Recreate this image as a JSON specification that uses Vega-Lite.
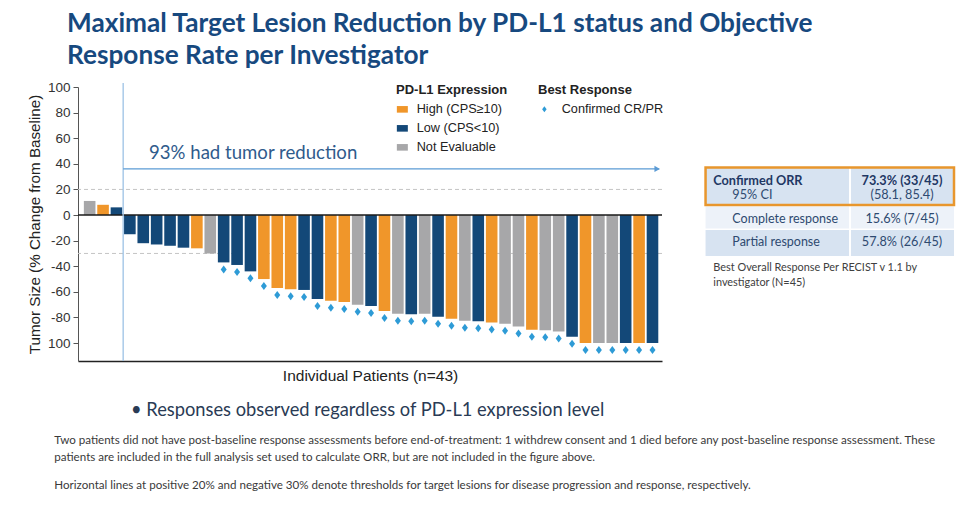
{
  "$schema": "https://vega.github.io/schema/vega-lite/v6.json",
  "width": 584,
  "height": 274,
  "autosize": {"type": "none"},
  "padding": {"left": 78, "top": 87, "right": 312, "bottom": 145},
  "background": "white",
  "config": {
    "view": {"stroke": null},
    "font": "Liberation Sans",
    "legend": {
      "labelFont": "Liberation Sans", "labelFontSize": 12.7, "labelColor": "#222",
      "titleFont": "Liberation Sans", "titleFontSize": 13, "titleFontWeight": "bold", "titleColor": "#222",
      "padding": 0, "rowPadding": 5, "titlePadding": 6
    }
  },
  "datasets": {
    "patients": [
      {"id": 1, "pct": 11, "pdl1": "Not Evaluable", "resp": null},
      {"id": 2, "pct": 8, "pdl1": "High (CPS≥10)", "resp": null},
      {"id": 3, "pct": 6, "pdl1": "Low (CPS<10)", "resp": null},
      {"id": 4, "pct": -15, "pdl1": "Low (CPS<10)", "resp": null},
      {"id": 5, "pct": -22, "pdl1": "Low (CPS<10)", "resp": null},
      {"id": 6, "pct": -23, "pdl1": "Low (CPS<10)", "resp": null},
      {"id": 7, "pct": -24, "pdl1": "Low (CPS<10)", "resp": null},
      {"id": 8, "pct": -25.5, "pdl1": "Low (CPS<10)", "resp": null},
      {"id": 9, "pct": -26, "pdl1": "High (CPS≥10)", "resp": null},
      {"id": 10, "pct": -30, "pdl1": "Not Evaluable", "resp": null},
      {"id": 11, "pct": -37, "pdl1": "Low (CPS<10)", "resp": "Confirmed CR/PR"},
      {"id": 12, "pct": -39, "pdl1": "Low (CPS<10)", "resp": "Confirmed CR/PR"},
      {"id": 13, "pct": -44, "pdl1": "Low (CPS<10)", "resp": "Confirmed CR/PR"},
      {"id": 14, "pct": -50, "pdl1": "High (CPS≥10)", "resp": "Confirmed CR/PR"},
      {"id": 15, "pct": -57, "pdl1": "High (CPS≥10)", "resp": "Confirmed CR/PR"},
      {"id": 16, "pct": -58, "pdl1": "High (CPS≥10)", "resp": "Confirmed CR/PR"},
      {"id": 17, "pct": -58.5, "pdl1": "Low (CPS<10)", "resp": "Confirmed CR/PR"},
      {"id": 18, "pct": -65.5, "pdl1": "Low (CPS<10)", "resp": "Confirmed CR/PR"},
      {"id": 19, "pct": -67, "pdl1": "High (CPS≥10)", "resp": "Confirmed CR/PR"},
      {"id": 20, "pct": -68, "pdl1": "High (CPS≥10)", "resp": "Confirmed CR/PR"},
      {"id": 21, "pct": -70, "pdl1": "Not Evaluable", "resp": "Confirmed CR/PR"},
      {"id": 22, "pct": -71, "pdl1": "Low (CPS<10)", "resp": "Confirmed CR/PR"},
      {"id": 23, "pct": -75, "pdl1": "High (CPS≥10)", "resp": "Confirmed CR/PR"},
      {"id": 24, "pct": -77, "pdl1": "Not Evaluable", "resp": "Confirmed CR/PR"},
      {"id": 25, "pct": -77.5, "pdl1": "Low (CPS<10)", "resp": "Confirmed CR/PR"},
      {"id": 26, "pct": -77, "pdl1": "Not Evaluable", "resp": "Confirmed CR/PR"},
      {"id": 27, "pct": -79.5, "pdl1": "Low (CPS<10)", "resp": "Confirmed CR/PR"},
      {"id": 28, "pct": -81, "pdl1": "High (CPS≥10)", "resp": "Confirmed CR/PR"},
      {"id": 29, "pct": -82.5, "pdl1": "Not Evaluable", "resp": "Confirmed CR/PR"},
      {"id": 30, "pct": -83, "pdl1": "Low (CPS<10)", "resp": "Confirmed CR/PR"},
      {"id": 31, "pct": -84, "pdl1": "High (CPS≥10)", "resp": "Confirmed CR/PR"},
      {"id": 32, "pct": -85, "pdl1": "Not Evaluable", "resp": "Confirmed CR/PR"},
      {"id": 33, "pct": -87, "pdl1": "Not Evaluable", "resp": "Confirmed CR/PR"},
      {"id": 34, "pct": -89.5, "pdl1": "High (CPS≥10)", "resp": "Confirmed CR/PR"},
      {"id": 35, "pct": -90, "pdl1": "Not Evaluable", "resp": "Confirmed CR/PR"},
      {"id": 36, "pct": -91, "pdl1": "Not Evaluable", "resp": "Confirmed CR/PR"},
      {"id": 37, "pct": -95, "pdl1": "Low (CPS<10)", "resp": "Confirmed CR/PR"},
      {"id": 38, "pct": -100, "pdl1": "High (CPS≥10)", "resp": "Confirmed CR/PR"},
      {"id": 39, "pct": -100, "pdl1": "Not Evaluable", "resp": "Confirmed CR/PR"},
      {"id": 40, "pct": -100, "pdl1": "Not Evaluable", "resp": "Confirmed CR/PR"},
      {"id": 41, "pct": -100, "pdl1": "Low (CPS<10)", "resp": "Confirmed CR/PR"},
      {"id": 42, "pct": -100, "pdl1": "High (CPS≥10)", "resp": "Confirmed CR/PR"},
      {"id": 43, "pct": -100, "pdl1": "Low (CPS<10)", "resp": "Confirmed CR/PR"}
    ]
  },
  "layer": [
    {
      "data": {"values": [{"pct": 20}, {"pct": -30}]},
      "mark": {"type": "rule", "color": "#c4c4c4", "strokeDash": [4, 3], "strokeWidth": 1},
      "encoding": {
        "y": {
          "field": "pct", "type": "quantitative",
          "scale": {"domain": [-114, 100], "nice": false, "padding": 0},
          "axis": {
            "title": "Tumor Size (% Change from Baseline)", "values": [100, 80, 60, 40, 20, 0, -20, -40, -60, -80, -100],
            "tickCount": 30,
            "labelExpr": "datum.value == -100 ? '100' : toString(datum.value)",
            "labelOverlap": false, "labelFlush": false, "labelBound": false,
            "grid": false, "tickSize": 5, "tickColor": "#555", "domainColor": "#555",
            "labelFontSize": 13.5, "labelColor": "#333", "labelPadding": 3, "labelFont": "Liberation Sans",
            "titleFont": "Liberation Sans", "titleFontSize": 15.2, "titleFontWeight": "normal", "titleColor": "#222", "titlePadding": 5
          }
        }
      }
    },
    {
      "data": {"name": "patients"},
      "mark": {"type": "bar", "width": 11.6},
      "encoding": {
        "x": {
          "field": "id", "type": "quantitative",
          "scale": {"domain": [0.13, 43.71], "nice": false, "zero": false, "padding": 0},
          "axis": {
            "title": "Individual Patients (n=43)", "labels": false, "ticks": false, "grid": false,
            "domainColor": "#222", "domainWidth": 1.5, "titleFont": "Liberation Sans",
            "titleFontSize": 15.5, "titleFontWeight": "normal", "titleColor": "#222", "titlePadding": 7
          }
        },
        "y": {
          "field": "pct", "type": "quantitative",
          "scale": {"domain": [-114, 100], "nice": false, "padding": 0},
          "axis": {
            "title": "Tumor Size (% Change from Baseline)", "values": [100, 80, 60, 40, 20, 0, -20, -40, -60, -80, -100],
            "tickCount": 30,
            "labelExpr": "datum.value == -100 ? '100' : toString(datum.value)",
            "labelOverlap": false, "labelFlush": false, "labelBound": false,
            "grid": false, "tickSize": 5, "tickColor": "#555", "domainColor": "#555",
            "labelFontSize": 13.5, "labelColor": "#333", "labelPadding": 3, "labelFont": "Liberation Sans",
            "titleFont": "Liberation Sans", "titleFontSize": 15.2, "titleFontWeight": "normal", "titleColor": "#222", "titlePadding": 5
          }
        },
        "color": {
          "field": "pdl1", "type": "nominal",
          "scale": {"domain": ["High (CPS≥10)", "Low (CPS<10)", "Not Evaluable"], "range": ["#f0962a", "#134878", "#a7a7a9"]},
          "legend": {
            "title": "PD-L1 Expression", "orient": "none", "legendX": 318, "legendY": -3,
            "symbolType": "M-1,-0.6H1V0.6H-1Z", "symbolSize": 121, "symbolStrokeWidth": 0, "labelOffset": 8
          }
        }
      }
    },
    {
      "data": {"values": [{"pct": 0}]},
      "mark": {"type": "rule", "color": "#1a1a1a", "strokeWidth": 1.5},
      "encoding": {"y": {"field": "pct", "type": "quantitative"}}
    },
    {
      "data": {"values": [{}]},
      "mark": {"type": "rule", "color": "#9cc2e5", "strokeWidth": 1.3},
      "encoding": {"x": {"datum": 3.5}, "y": {"datum": 103.1}, "y2": {"datum": -114}}
    },
    {
      "data": {"values": [{}]},
      "mark": {"type": "rule", "color": "#5b9bd5", "strokeWidth": 1.3},
      "encoding": {"x": {"datum": 3.5}, "x2": {"datum": 43.5}, "y": {"datum": 36}}
    },
    {
      "data": {"values": [{}]},
      "mark": {"type": "point", "shape": "triangle-right", "filled": true, "opacity": 1, "color": "#5b9bd5", "size": 40, "strokeWidth": 0},
      "encoding": {"x": {"datum": 43.35}, "y": {"datum": 36}}
    },
    {
      "data": {"name": "patients"},
      "transform": [{"filter": "datum.resp != null"}],
      "mark": {"type": "point", "filled": true, "opacity": 1, "size": 64, "yOffset": 7, "color": "#2e9bd6", "strokeWidth": 0},
      "encoding": {
        "x": {"field": "id", "type": "quantitative"},
        "y": {"field": "pct", "type": "quantitative"},
        "shape": {
          "field": "resp", "type": "nominal",
          "scale": {"domain": ["Confirmed CR/PR"], "range": ["M0,-1L0.75,0L0,1L-0.75,0Z"]},
          "legend": {
            "title": "Best Response", "orient": "none", "legendX": 460, "legendY": -3,
            "symbolSize": 36, "symbolFillColor": "#2e9bd6", "symbolStrokeWidth": 0, "labelOffset": 11
          }
        }
      }
    },
    {
      "data": {"values": [{"t": "93% had tumor reduction"}]},
      "mark": {"type": "text", "font": "Lato", "fontSize": 18.6, "color": "#2f5b8c", "align": "left", "baseline": "alphabetic"},
      "encoding": {"x": {"datum": 5.43}, "y": {"datum": 43.53}, "text": {"field": "t"}}
    },
    {
      "data": {"values": [{"t": "Maximal Target Lesion Reduction by PD-L1 status and Objective"}]},
      "mark": {"type": "text", "font": "Lato", "fontSize": 26.2, "fontWeight": "bold", "color": "#17497f", "align": "left", "baseline": "alphabetic"},
      "encoding": {"x": {"datum": -0.69}, "y": {"datum": 142.72}, "text": {"field": "t"}}
    },
    {
      "data": {"values": [{"t": "Response Rate per Investigator"}]},
      "mark": {"type": "text", "font": "Lato", "fontSize": 26.2, "fontWeight": "bold", "color": "#17497f", "align": "left", "baseline": "alphabetic"},
      "encoding": {"x": {"datum": -0.69}, "y": {"datum": 117.9}, "text": {"field": "t"}}
    },
    {
      "data": {"values": [{}]},
      "mark": {"type": "rect", "fill": "#d7e3f1"},
      "encoding": {"x": {"datum": 46.96}, "x2": {"datum": 65.5}, "y": {"datum": 37.13}, "y2": {"datum": 7.84}}
    },
    {
      "data": {"values": [{}]},
      "mark": {"type": "rect", "fill": "#edf2f9"},
      "encoding": {"x": {"datum": 46.96}, "x2": {"datum": 65.5}, "y": {"datum": 6.67}, "y2": {"datum": -10.51}}
    },
    {
      "data": {"values": [{}]},
      "mark": {"type": "rect", "fill": "#d7e3f1"},
      "encoding": {"x": {"datum": 46.96}, "x2": {"datum": 65.5}, "y": {"datum": -11.68}, "y2": {"datum": -31.96}}
    },
    {
      "data": {"values": [{}]},
      "mark": {"type": "rule", "color": "white", "strokeWidth": 2},
      "encoding": {"x": {"datum": 57.74}, "y": {"datum": 37.13}, "y2": {"datum": -31.96}}
    },
    {
      "data": {"values": [{}]},
      "mark": {"type": "rect", "fill": null, "fillOpacity": 0, "stroke": "#e8962d", "strokeWidth": 2.5},
      "encoding": {"x": {"datum": 46.96}, "x2": {"datum": 65.5}, "y": {"datum": 37.13}, "y2": {"datum": 7.84}}
    },
    {
      "data": {"values": [{"t": "Confirmed ORR"}]},
      "mark": {"type": "text", "font": "Lato", "fontSize": 12.7, "fontWeight": "bold", "color": "#1f3864", "align": "left", "baseline": "alphabetic"},
      "encoding": {"x": {"datum": 47.54}, "y": {"datum": 23.46}, "text": {"field": "t"}}
    },
    {
      "data": {"values": [{"t": "95% CI"}]},
      "mark": {"type": "text", "font": "Lato", "fontSize": 12.7, "color": "#2e4a70", "align": "left", "baseline": "alphabetic"},
      "encoding": {"x": {"datum": 48.96}, "y": {"datum": 12.29}, "text": {"field": "t"}}
    },
    {
      "data": {"values": [{"t": "73.3% (33/45)"}]},
      "mark": {"type": "text", "font": "Lato", "fontSize": 12.7, "fontWeight": "bold", "color": "#1f3864", "align": "center", "baseline": "alphabetic"},
      "encoding": {"x": {"datum": 61.62}, "y": {"datum": 23.46}, "text": {"field": "t"}}
    },
    {
      "data": {"values": [{"t": "(58.1, 85.4)"}]},
      "mark": {"type": "text", "font": "Lato", "fontSize": 12.7, "color": "#2e4a70", "align": "center", "baseline": "alphabetic"},
      "encoding": {"x": {"datum": 61.62}, "y": {"datum": 12.29}, "text": {"field": "t"}}
    },
    {
      "data": {"values": [{"t": "Complete response"}]},
      "mark": {"type": "text", "font": "Lato", "fontSize": 12.5, "color": "#2e4a70", "align": "left", "baseline": "alphabetic"},
      "encoding": {"x": {"datum": 48.96}, "y": {"datum": -5.98}, "text": {"field": "t"}}
    },
    {
      "data": {"values": [{"t": "15.6% (7/45)"}]},
      "mark": {"type": "text", "font": "Lato", "fontSize": 12.7, "color": "#2e4a70", "align": "center", "baseline": "alphabetic"},
      "encoding": {"x": {"datum": 61.62}, "y": {"datum": -5.98}, "text": {"field": "t"}}
    },
    {
      "data": {"values": [{"t": "Partial response"}]},
      "mark": {"type": "text", "font": "Lato", "fontSize": 12.5, "color": "#2e4a70", "align": "left", "baseline": "alphabetic"},
      "encoding": {"x": {"datum": 48.96}, "y": {"datum": -24.18}, "text": {"field": "t"}}
    },
    {
      "data": {"values": [{"t": "57.8% (26/45)"}]},
      "mark": {"type": "text", "font": "Lato", "fontSize": 12.7, "color": "#2e4a70", "align": "center", "baseline": "alphabetic"},
      "encoding": {"x": {"datum": 61.62}, "y": {"datum": -24.18}, "text": {"field": "t"}}
    },
    {
      "data": {"values": [{"t": "Best Overall Response Per RECIST v 1.1 by\ninvestigator (N=45)"}]},
      "mark": {"type": "text", "font": "Lato", "fontSize": 10.9, "color": "#404040", "align": "left", "baseline": "alphabetic", "lineBreak": "\n", "lineHeight": 15},
      "encoding": {"x": {"datum": 47.54}, "y": {"datum": -43.35}, "text": {"field": "t"}}
    },
    {
      "data": {"values": [{"t": "•  Responses observed regardless of PD-L1 expression level"}]},
      "mark": {"type": "text", "font": "Lato", "fontSize": 18.3, "color": "#2a3b55", "align": "left", "baseline": "alphabetic"},
      "encoding": {"x": {"datum": 4.085}, "y": {"datum": -156.95}, "text": {"field": "t"}}
    },
    {
      "data": {"values": [{"t": "Two patients did not have post-baseline response assessments before end-of-treatment: 1 withdrew consent and 1 died before any post-baseline response assessment. These\npatients are included in the full analysis set used to calculate ORR, but are not included in the figure above."}]},
      "mark": {"type": "text", "font": "Lato", "fontSize": 11.6, "color": "#3a3a3a", "align": "left", "baseline": "alphabetic", "lineBreak": "\n", "lineHeight": 16.5},
      "encoding": {"x": {"datum": -1.639}, "y": {"datum": -179.2}, "text": {"field": "t"}}
    },
    {
      "data": {"values": [{"t": "Horizontal lines at positive 20% and negative 30% denote thresholds for target lesions for disease progression and response, respectively."}]},
      "mark": {"type": "text", "font": "Lato", "fontSize": 11.6, "color": "#3a3a3a", "align": "left", "baseline": "alphabetic"},
      "encoding": {"x": {"datum": -1.639}, "y": {"datum": -213.6}, "text": {"field": "t"}}
    }
  ]
}
